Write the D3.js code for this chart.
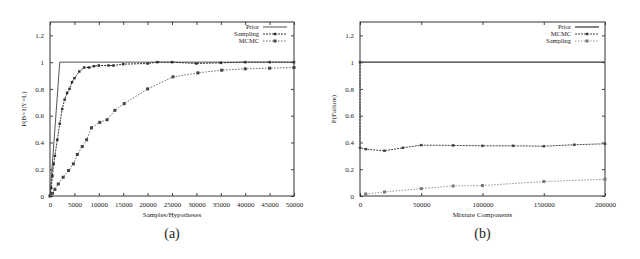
<!DOCTYPE html>
<html>
<head>
<meta charset="utf-8">
<script src="https://cdn.jsdelivr.net/npm/d3@7"></script>
<style>
  body { margin: 0; background: #fff; }
  svg { display: block; }
  text { font-family: "Liberation Serif", "DejaVu Serif", serif; fill: #222; }
</style>
</head>
<body>
<svg id="chart" width="640" height="259"></svg>
<script>
// panel (a): samples/hypotheses vs P(B=1|Y=L)
const aPrior = [[0, 0], [2000, 1], [10000, 1], [20000, 1], [30000, 1], [40000, 1], [50000, 1]];
const aSampling = [
    [0, 0], [250, 0.06], [500, 0.15], [750, 0.24], [1000, 0.3], [1500, 0.42], [2000, 0.54],
    [2500, 0.65], [3000, 0.72], [3500, 0.77], [4000, 0.8], [4500, 0.85], [5000, 0.88],
    [6000, 0.93], [7000, 0.96], [8000, 0.96], [9000, 0.97], [10000, 0.975], [12000, 0.975],
    [13000, 0.975], [15000, 0.985], [20000, 0.99], [22000, 1.0], [25000, 1.0], [30000, 0.99],
    [35000, 0.995], [40000, 1.0], [45000, 1.0], [50000, 1.0]
];
const aMCMC = [
    [0, 0], [500, 0.02], [1000, 0.05], [1700, 0.09], [2700, 0.14], [3800, 0.19], [4800, 0.24],
    [5600, 0.31], [6600, 0.37], [7500, 0.42], [8500, 0.51], [10200, 0.55], [11700, 0.57],
    [13300, 0.64], [15200, 0.69], [20000, 0.8], [25200, 0.89], [30300, 0.92], [35200, 0.94],
    [40000, 0.95], [45000, 0.955], [50000, 0.96]
];
const aXTicks = [0, 5000, 10000, 15000, 20000, 25000, 30000, 35000, 40000, 45000, 50000];

// panel (b): mixture components vs P(Failure)
const bPrior = [[0, 1], [50000, 1], [100000, 1], [150000, 1], [200000, 1]];
const bMCMC = [
    [0, 1], [0, 0.36], [4650, 0.35], [20000, 0.338], [35000, 0.36], [50000, 0.38], [76000, 0.378],
    [100000, 0.375], [125000, 0.375], [150000, 0.372], [175000, 0.383], [200000, 0.39]
];
const bSampling = [
    [4650, 0.015], [20000, 0.03], [50000, 0.055], [76000, 0.075], [100000, 0.078],
    [150000, 0.108], [200000, 0.125]
];
const bXTicks = [0, 50000, 100000, 150000, 200000];

const yTicks = [0, 0.2, 0.4, 0.6, 0.8, 1, 1.2];

const svg = d3.select("#chart");

function panel(opts) {
    const g = svg.append("g");
    const x = d3.scaleLinear().domain(opts.xDomain).range([opts.left, opts.right]);
    const y = d3.scaleLinear().domain([0, 1.3]).range([196, 22]);

    // gnuplot style: inward ticks on all four sides
    g.append("g")
        .attr("transform", "translate(0,196)")
        .call(d3.axisBottom(x).tickValues(opts.xTicks).tickSizeInner(-3).tickSizeOuter(0).tickPadding(6).tickFormat(d3.format("d")));
    g.append("g")
        .attr("transform", "translate(0,22)")
        .call(d3.axisTop(x).tickValues(opts.xTicks).tickSizeInner(-3).tickSizeOuter(0).tickFormat(""));
    g.append("g")
        .attr("transform", "translate(" + opts.left + ",0)")
        .call(d3.axisLeft(y).tickValues(yTicks).tickSizeInner(-3).tickSizeOuter(0).tickPadding(6).tickFormat(d => d === 0 || d === 1 ? d : d.toFixed(1)));
    g.append("g")
        .attr("transform", "translate(" + opts.right + ",0)")
        .call(d3.axisRight(y).tickValues(yTicks).tickSizeInner(-3).tickSizeOuter(0).tickFormat(""));

    g.selectAll(".domain").remove();
    g.selectAll(".tick line").attr("stroke", "#444");
    g.selectAll(".tick text").style("font-size", "7px").attr("fill", "#222");

    g.append("rect")
        .attr("x", opts.left).attr("y", 22)
        .attr("width", opts.right - opts.left).attr("height", 174)
        .attr("fill", "none").attr("stroke", "#333").attr("stroke-width", 1);

    const line = d3.line().x(d => x(d[0])).y(d => y(d[1]));

    opts.series.forEach((s, i) => {
        g.append("path")
            .datum(s.data)
            .attr("fill", "none")
            .attr("stroke", s.color)
            .attr("stroke-width", s.width)
            .attr("stroke-dasharray", s.dash)
            .attr("d", line);

        g.selectAll(".m" + i)
            .data(s.markers ? s.data : [])
            .enter().append("rect")
            .attr("x", d => x(d[0]) - s.size / 2)
            .attr("y", d => y(d[1]) - s.size / 2)
            .attr("width", s.size)
            .attr("height", s.size)
            .attr("fill", s.color);

        // legend
        const ly = 27 + i * 7;
        g.append("text")
            .attr("x", opts.legendX - 4)
            .attr("y", ly)
            .attr("dy", "0.35em")
            .attr("text-anchor", "end")
            .style("font-size", "6.5px")
            .text(s.name);
        g.append("line")
            .attr("x1", opts.legendX).attr("x2", opts.legendX + 24)
            .attr("y1", ly).attr("y2", ly)
            .attr("stroke", s.color)
            .attr("stroke-width", s.width)
            .attr("stroke-dasharray", s.dash);
        if (s.markers) {
            g.append("rect")
                .attr("x", opts.legendX + 12 - s.size / 2)
                .attr("y", ly - s.size / 2)
                .attr("width", s.size).attr("height", s.size)
                .attr("fill", s.color);
        }
    });

    g.append("text")
        .attr("x", (opts.left + opts.right) / 2)
        .attr("y", 217)
        .attr("text-anchor", "middle")
        .style("font-size", "7px")
        .text(opts.xLabel);

    g.append("text")
        .attr("transform", "translate(" + (opts.left - 24) + ",109) rotate(-90)")
        .attr("text-anchor", "middle")
        .style("font-size", "7px")
        .text(opts.yLabel);

    g.append("text")
        .attr("x", (opts.left + opts.right) / 2)
        .attr("y", 238)
        .attr("text-anchor", "middle")
        .style("font-size", "14px")
        .text(opts.caption);
}

panel({
    left: 50, right: 294,
    xDomain: [0, 50000], xTicks: aXTicks,
    legendX: 263,
    xLabel: "Samples/Hypotheses", yLabel: "P(B=1|Y=L)", caption: "(a)",
    series: [
        {name: "Prior", data: aPrior, color: "#555", width: 1, dash: null, markers: false, size: 2},
        {name: "Sampling", data: aSampling, color: "#333", width: 1, dash: "2,1", markers: true, size: 2.5},
        {name: "MCMC", data: aMCMC, color: "#444", width: 0.8, dash: "1.5,1.5", markers: true, size: 3}
    ]
});

panel({
    left: 360, right: 605,
    xDomain: [0, 200000], xTicks: bXTicks,
    legendX: 575,
    xLabel: "Mixture Components", yLabel: "P(Failure)", caption: "(b)",
    series: [
        {name: "Prior", data: bPrior, color: "#333", width: 1.2, dash: null, markers: false, size: 2},
        {name: "MCMC", data: bMCMC, color: "#444", width: 1, dash: "2,1", markers: true, size: 2.5},
        {name: "Sampling", data: bSampling, color: "#777", width: 0.8, dash: "1.5,1.5", markers: true, size: 3}
    ]
});
</script>
</body>
</html>
